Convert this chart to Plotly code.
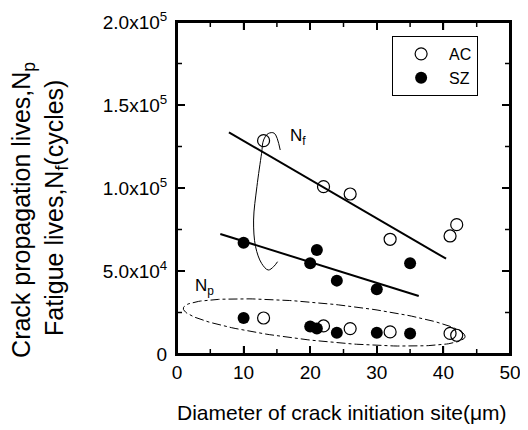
import numpy as np
import plotly.graph_objects as go

# ---- data ----
ac_nf_x = [13, 22, 26, 32, 41, 42]
ac_nf_y = [128500, 100800, 96400, 69100, 71100, 77900]
sz_nf_x = [10, 20, 21, 24, 30, 35]
sz_nf_y = [67000, 54600, 62700, 44200, 39000, 54600]
ac_np_x = [13, 22, 26, 32, 41, 42]
ac_np_y = [21700, 16900, 15300, 13300, 12400, 11300]
sz_np_x = [10, 20, 21, 24, 30, 35]
sz_np_y = [21700, 16500, 15300, 12800, 12800, 12400]

# fitted trend lines (endpoints)
fit_ac_x = [7.8, 40.4]
fit_ac_y = [133500, 57400]
fit_sz_x = [6.5, 36.3]
fit_sz_y = [72300, 34900]

# hand-drawn bracket around the Nf data
loop_x = [15.5, 14.6, 13.7, 13.0, 12.7, 12.0, 11.5, 11.8, 12.7, 13.7, 14.5, 15.1]
loop_y = [122900, 133000, 132800, 128900, 120900, 100800, 80700, 64600, 54600, 50600, 52600, 55600]

# dash-dot ellipse around the Np data (screen-scaled geometry)
ell_cx, ell_cy = 22.1, 19000
ell_a_px, ell_b_px, ell_ang_deg = 141.6, 19.0, -5.76

x_range = [0, 50]
y_range = [0, 200000]
x_ticks = [0, 10, 20, 30, 40, 50]
x_minor = [5, 15, 25, 35, 45]
y_ticks = [0, 50000, 100000, 150000, 200000]
y_minor = [25000, 75000, 125000, 175000]
y_ticktext = ["0", "5.0x10<sup>4</sup>", "1.0x10<sup>5</sup>", "1.5x10<sup>5</sup>", "2.0x10<sup>5</sup>"]

FONT = "Liberation Sans, Arial, sans-serif"
NARROW = "Liberation Sans Narrow, Arial Narrow, sans-serif"

PLOT_W, PLOT_H = 333, 332
px_per_x = PLOT_W / (x_range[1] - x_range[0])
px_per_y = PLOT_H / (y_range[1] - y_range[0])

t = np.linspace(0, 2 * np.pi, 200)
ang = np.deg2rad(ell_ang_deg)
ex_px = ell_a_px * np.cos(t) * np.cos(ang) - ell_b_px * np.sin(t) * np.sin(ang)
ey_px = ell_a_px * np.cos(t) * np.sin(ang) + ell_b_px * np.sin(t) * np.cos(ang)
ell_x = ell_cx + ex_px / px_per_x
ell_y = ell_cy + ey_px / px_per_y

# frame and inside tick marks on all four sides, derived from the axis ranges / tick arrays
frame_x = [x_range[0], x_range[1], x_range[1], x_range[0], x_range[0]]
frame_y = [y_range[0], y_range[0], y_range[1], y_range[1], y_range[0]]
tx, ty = [], []
for vals, ln in ((x_ticks, 8), (x_minor, 5)):
    dl = ln / px_per_y
    for v in vals:
        tx += [v, v, None, v, v, None]
        ty += [y_range[0], y_range[0] + dl, None, y_range[1], y_range[1] - dl, None]
for vals, ln in ((y_ticks, 8), (y_minor, 5)):
    dl = ln / px_per_x
    for v in vals:
        tx += [x_range[0], x_range[0] + dl, None, x_range[1], x_range[1] - dl, None]
        ty += [v, v, None, v, v, None]

fig = go.Figure()

fig.add_trace(go.Scatter(x=tx, y=ty, mode="lines", line=dict(color="black", width=1.5),
                         showlegend=False, hoverinfo="skip", cliponaxis=False))
fig.add_trace(go.Scatter(x=frame_x, y=frame_y, mode="lines", line=dict(color="black", width=2),
                         showlegend=False, hoverinfo="skip", cliponaxis=False))

line_style = dict(color="black", width=2)
fig.add_trace(go.Scatter(x=fit_ac_x, y=fit_ac_y, mode="lines", line=line_style, showlegend=False, hoverinfo="skip"))
fig.add_trace(go.Scatter(x=fit_sz_x, y=fit_sz_y, mode="lines", line=line_style, showlegend=False, hoverinfo="skip"))
fig.add_trace(go.Scatter(x=loop_x, y=loop_y, mode="lines", line=dict(color="black", width=1, shape="spline"),
                         showlegend=False, hoverinfo="skip"))
fig.add_trace(go.Scatter(x=ell_x, y=ell_y, mode="lines", line=dict(color="black", width=1, dash="dashdot"),
                         showlegend=False, hoverinfo="skip"))

open_m = dict(symbol="circle-open", size=12, color="black", line=dict(width=1.2, color="black"))
fill_m = dict(symbol="circle", size=12, color="black")

fig.add_trace(go.Scatter(x=ac_nf_x, y=ac_nf_y, mode="markers", marker=open_m, name="AC", legendgroup="AC"))
fig.add_trace(go.Scatter(x=sz_nf_x, y=sz_nf_y, mode="markers", marker=fill_m, name="SZ", legendgroup="SZ"))
fig.add_trace(go.Scatter(x=ac_np_x, y=ac_np_y, mode="markers", marker=open_m, name="AC", legendgroup="AC", showlegend=False))
fig.add_trace(go.Scatter(x=sz_np_x, y=sz_np_y, mode="markers", marker=fill_m, name="SZ", legendgroup="SZ", showlegend=False))

axis_common = dict(
    showline=True, linecolor="#000000", linewidth=2, mirror="allticks",
    ticks="inside", ticklen=8, tickwidth=1.5, tickcolor="#000000",
    showgrid=False, zeroline=False,
    tickfont=dict(family=FONT, size=19, color="black"),
)

fig.update_xaxes(range=x_range, tickmode="array", tickvals=x_ticks, ticktext=[str(v) for v in x_ticks],
                 **axis_common)
fig.update_yaxes(range=y_range, tickmode="array", tickvals=y_ticks, ticktext=y_ticktext,
                 ticklabelstandoff=4, **axis_common)

fig.add_annotation(text="Diameter of crack initiation site(\u03bcm)", xref="paper", yref="paper",
                   x=0.4955, y=-0.175, xanchor="center", yanchor="middle", showarrow=False,
                   font=dict(family=FONT, size=21, color="black"))
fig.add_annotation(text="Crack propagation lives,N<sub>p</sub>",
                   xref="paper", yref="paper", x=(23 - 177) / 333, y=0.434, xanchor="center", yanchor="middle",
                   textangle=-90, showarrow=False, font=dict(family=FONT, size=25, color="black"))
fig.add_annotation(text="Fatigue lives,N<sub>f</sub>(cycles)",
                   xref="paper", yref="paper", x=(56 - 177) / 333, y=0.44, xanchor="center", yanchor="middle",
                   textangle=-90, showarrow=False, font=dict(family=FONT, size=25, color="black"))
fig.add_annotation(text="N<sub>f</sub>", x=18.2, y=131000, showarrow=False,
                   font=dict(family=NARROW, size=17, color="black"))
fig.add_annotation(text="N<sub>p</sub>", x=4.2, y=40500, showarrow=False,
                   font=dict(family=NARROW, size=17, color="black"))

# page body adds an 8px offset; compensate so the plot area lands where the reference has it
fig.update_layout(
    width=520, height=422,
    margin=dict(l=169, r=18, t=14, b=76, autoexpand=False),
    paper_bgcolor="white", plot_bgcolor="rgba(0,0,0,0)",
    showlegend=True,
    legend=dict(x=0.646, y=0.958, xanchor="left", yanchor="top",
                borderwidth=1, bordercolor="black", bgcolor="rgba(0,0,0,0)",
                font=dict(family=FONT, size=16, color="black"),
                itemwidth=46, tracegroupgap=0),
)

fig.write_html("out.html")
